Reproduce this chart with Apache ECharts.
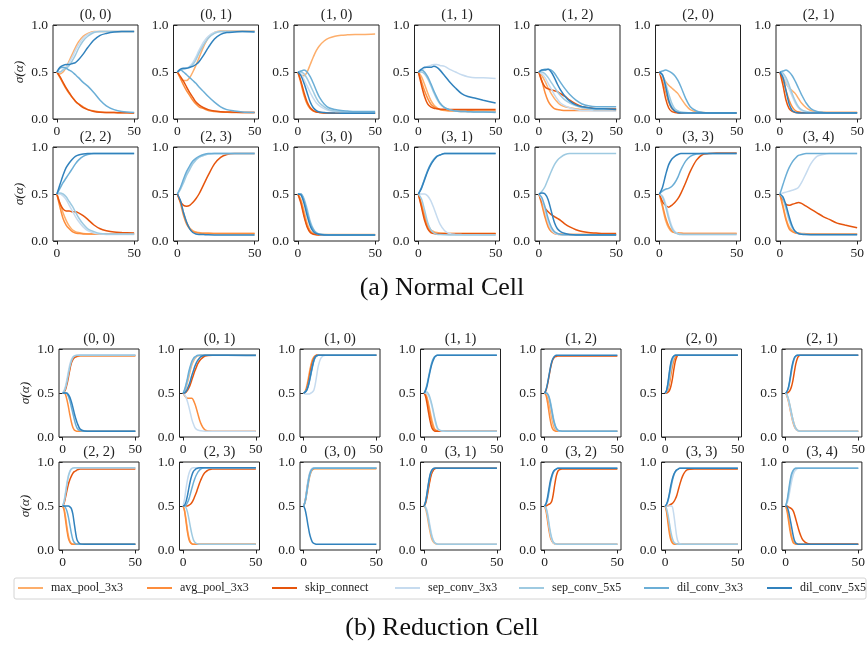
<!DOCTYPE html>
<html>
<head>
<meta charset="utf-8">
<script src="https://cdn.jsdelivr.net/npm/echarts@6/dist/echarts.min.js"></script>
<style>html,body{margin:0;padding:0;background:#fff;}#chart{width:868px;height:648px;}</style>
</head>
<body>
<div id="chart"></div>
<script>
const seriesNames = ['max_pool_3x3','avg_pool_3x3','skip_connect','sep_conv_3x3','sep_conv_5x5','dil_conv_3x3','dil_conv_5x5'];
const seriesColors = ['#fdae6b','#fd8d3c','#e6550d','#c6dbef','#9ecae1','#6baed6','#3182bd'];
const edgeLabels = ['(0, 0)','(0, 1)','(1, 0)','(1, 1)','(1, 2)','(2, 0)','(2, 1)','(2, 2)','(2, 3)','(3, 0)','(3, 1)','(3, 2)','(3, 3)','(3, 4)'];
const xTicks = [0, 50];
const yTicks = [0, 0.5, 1];
const epochsNormal = [0,2,4,6,8,10,12,14,17,20,24,28,32,37,42,50];
const epochsReduce = [0,1,2,3,4,5,6,7,8,9,10,12,15,20,30,50];

// ---------- Normal cell (order: max, avg, skip, sep3, sep5, dil3, dil5) ----------
const normal_0_0 = [
 [0.5,0.48,0.5,0.55,0.62,0.69,0.76,0.82,0.88,0.91,0.93,0.93,0.93,0.93,0.93,0.93],
 [0.5,0.44,0.38,0.32,0.27,0.23,0.19,0.16,0.13,0.1,0.085,0.075,0.07,0.068,0.066,0.065],
 [0.5,0.45,0.39,0.33,0.28,0.23,0.19,0.16,0.12,0.1,0.08,0.072,0.07,0.068,0.066,0.065],
 [0.5,0.5,0.53,0.55,0.6,0.66,0.73,0.79,0.86,0.9,0.925,0.93,0.93,0.93,0.93,0.93],
 [0.5,0.5,0.52,0.54,0.57,0.62,0.68,0.75,0.83,0.88,0.92,0.93,0.93,0.93,0.93,0.93],
 [0.5,0.54,0.55,0.54,0.52,0.5,0.47,0.44,0.39,0.35,0.28,0.2,0.14,0.1,0.08,0.07],
 [0.5,0.55,0.57,0.58,0.58,0.59,0.6,0.63,0.69,0.76,0.84,0.89,0.91,0.925,0.93,0.93]
];
const normal_0_1 = [
 [0.5,0.44,0.41,0.41,0.44,0.5,0.57,0.65,0.77,0.86,0.92,0.935,0.935,0.935,0.935,0.935],
 [0.5,0.43,0.36,0.3,0.25,0.2,0.16,0.13,0.11,0.09,0.08,0.075,0.072,0.07,0.07,0.07],
 [0.5,0.45,0.4,0.34,0.28,0.23,0.18,0.15,0.12,0.1,0.085,0.078,0.075,0.072,0.07,0.07],
 [0.5,0.52,0.53,0.54,0.56,0.6,0.66,0.73,0.82,0.88,0.92,0.93,0.93,0.93,0.93,0.93],
 [0.5,0.52,0.53,0.54,0.55,0.58,0.63,0.7,0.79,0.86,0.91,0.93,0.93,0.93,0.93,0.93],
 [0.5,0.52,0.5,0.47,0.44,0.41,0.38,0.34,0.29,0.24,0.18,0.13,0.1,0.085,0.075,0.07],
 [0.5,0.53,0.54,0.54,0.55,0.56,0.58,0.61,0.68,0.76,0.85,0.9,0.92,0.925,0.93,0.925]
];
const normal_1_0 = [
 [0.5,0.47,0.46,0.5,0.58,0.66,0.73,0.78,0.83,0.86,0.88,0.89,0.895,0.9,0.9,0.905],
 [0.5,0.38,0.25,0.16,0.11,0.085,0.075,0.07,0.065,0.063,0.062,0.06,0.06,0.06,0.06,0.06],
 [0.5,0.4,0.28,0.18,0.12,0.09,0.075,0.07,0.065,0.063,0.062,0.06,0.06,0.06,0.06,0.06],
 [0.5,0.48,0.42,0.35,0.28,0.22,0.17,0.14,0.11,0.09,0.08,0.075,0.07,0.07,0.07,0.07],
 [0.5,0.5,0.48,0.43,0.36,0.29,0.22,0.17,0.13,0.1,0.085,0.078,0.075,0.075,0.075,0.075],
 [0.5,0.51,0.52,0.5,0.45,0.38,0.3,0.23,0.16,0.12,0.1,0.09,0.085,0.08,0.08,0.08],
 [0.5,0.46,0.38,0.28,0.18,0.12,0.09,0.075,0.068,0.065,0.063,0.062,0.06,0.06,0.06,0.06]
];
const normal_1_1 = [
 [0.5,0.45,0.37,0.28,0.2,0.15,0.12,0.1,0.09,0.085,0.082,0.08,0.08,0.08,0.08,0.08],
 [0.5,0.4,0.3,0.22,0.16,0.13,0.11,0.1,0.095,0.09,0.09,0.088,0.087,0.086,0.085,0.085],
 [0.5,0.36,0.24,0.16,0.13,0.115,0.11,0.105,0.105,0.1,0.1,0.1,0.1,0.1,0.1,0.1],
 [0.5,0.52,0.54,0.56,0.57,0.58,0.58,0.57,0.56,0.53,0.5,0.47,0.45,0.44,0.44,0.43],
 [0.5,0.5,0.48,0.43,0.36,0.28,0.21,0.16,0.12,0.1,0.085,0.08,0.078,0.075,0.075,0.075],
 [0.5,0.52,0.5,0.45,0.38,0.3,0.23,0.17,0.12,0.1,0.085,0.08,0.078,0.075,0.075,0.07],
 [0.5,0.53,0.55,0.55,0.55,0.56,0.55,0.52,0.46,0.4,0.33,0.27,0.24,0.22,0.2,0.17]
];
const normal_1_2 = [
 [0.5,0.46,0.4,0.33,0.27,0.22,0.18,0.15,0.13,0.12,0.11,0.1,0.1,0.1,0.1,0.1],
 [0.5,0.4,0.28,0.19,0.14,0.11,0.1,0.095,0.09,0.09,0.09,0.09,0.09,0.09,0.09,0.09],
 [0.5,0.4,0.34,0.32,0.31,0.3,0.29,0.27,0.24,0.2,0.16,0.13,0.12,0.11,0.11,0.11],
 [0.5,0.48,0.44,0.38,0.32,0.26,0.21,0.17,0.14,0.12,0.1,0.09,0.09,0.085,0.085,0.085],
 [0.5,0.5,0.48,0.44,0.39,0.34,0.29,0.25,0.2,0.17,0.14,0.12,0.11,0.1,0.1,0.1],
 [0.5,0.52,0.53,0.53,0.52,0.49,0.44,0.39,0.32,0.26,0.2,0.16,0.14,0.13,0.13,0.13],
 [0.5,0.52,0.52,0.53,0.5,0.44,0.37,0.31,0.24,0.19,0.15,0.13,0.12,0.11,0.11,0.1]
];
const normal_2_0 = [
 [0.5,0.46,0.4,0.36,0.33,0.3,0.27,0.22,0.15,0.1,0.075,0.068,0.065,0.065,0.065,0.065],
 [0.5,0.42,0.3,0.18,0.11,0.08,0.07,0.065,0.065,0.065,0.065,0.065,0.065,0.065,0.065,0.065],
 [0.5,0.38,0.22,0.12,0.08,0.07,0.065,0.065,0.065,0.065,0.065,0.065,0.065,0.065,0.065,0.065],
 [0.5,0.45,0.34,0.22,0.14,0.1,0.08,0.07,0.065,0.065,0.065,0.065,0.065,0.065,0.065,0.065],
 [0.5,0.47,0.38,0.27,0.17,0.11,0.085,0.075,0.068,0.065,0.065,0.065,0.065,0.065,0.065,0.065],
 [0.5,0.51,0.52,0.51,0.49,0.46,0.41,0.34,0.22,0.13,0.085,0.07,0.065,0.065,0.065,0.065],
 [0.5,0.47,0.35,0.2,0.12,0.085,0.07,0.065,0.065,0.065,0.065,0.065,0.065,0.065,0.065,0.065]
];
const normal_2_1 = [
 [0.5,0.45,0.38,0.33,0.3,0.27,0.22,0.17,0.12,0.09,0.075,0.07,0.07,0.07,0.07,0.07],
 [0.5,0.42,0.3,0.2,0.13,0.09,0.075,0.07,0.07,0.07,0.07,0.07,0.07,0.07,0.07,0.07],
 [0.5,0.36,0.2,0.11,0.08,0.07,0.068,0.067,0.066,0.066,0.066,0.066,0.066,0.066,0.066,0.066],
 [0.5,0.47,0.4,0.32,0.24,0.17,0.12,0.09,0.075,0.07,0.068,0.066,0.066,0.066,0.066,0.066],
 [0.5,0.49,0.44,0.36,0.27,0.19,0.13,0.1,0.08,0.07,0.068,0.066,0.066,0.066,0.066,0.066],
 [0.5,0.51,0.52,0.5,0.46,0.4,0.33,0.26,0.17,0.11,0.08,0.07,0.066,0.066,0.066,0.066],
 [0.5,0.44,0.3,0.16,0.09,0.07,0.065,0.065,0.065,0.065,0.065,0.065,0.065,0.065,0.065,0.065]
];
const normal_2_2 = [
 [0.5,0.4,0.3,0.22,0.16,0.12,0.1,0.09,0.08,0.075,0.075,0.075,0.075,0.075,0.075,0.075],
 [0.5,0.36,0.24,0.17,0.13,0.1,0.085,0.08,0.075,0.075,0.075,0.075,0.075,0.075,0.075,0.075],
 [0.5,0.4,0.34,0.32,0.32,0.31,0.31,0.3,0.27,0.23,0.17,0.13,0.11,0.095,0.09,0.085],
 [0.5,0.5,0.48,0.44,0.38,0.32,0.26,0.21,0.15,0.11,0.085,0.075,0.07,0.07,0.07,0.07],
 [0.5,0.51,0.5,0.47,0.42,0.37,0.31,0.25,0.18,0.13,0.1,0.08,0.075,0.075,0.075,0.075],
 [0.5,0.56,0.62,0.67,0.72,0.77,0.82,0.86,0.9,0.92,0.93,0.93,0.93,0.93,0.93,0.93],
 [0.5,0.6,0.7,0.78,0.83,0.87,0.9,0.915,0.925,0.93,0.93,0.93,0.93,0.93,0.93,0.93]
];
const normal_2_3 = [
 [0.5,0.42,0.3,0.2,0.14,0.11,0.095,0.09,0.085,0.085,0.08,0.08,0.08,0.08,0.08,0.08],
 [0.5,0.4,0.27,0.18,0.13,0.1,0.09,0.085,0.08,0.08,0.08,0.08,0.08,0.08,0.08,0.08],
 [0.5,0.42,0.38,0.37,0.38,0.41,0.45,0.5,0.6,0.7,0.82,0.89,0.92,0.93,0.93,0.93],
 [0.5,0.56,0.64,0.72,0.78,0.83,0.87,0.89,0.915,0.925,0.93,0.93,0.93,0.93,0.93,0.93],
 [0.5,0.55,0.62,0.7,0.76,0.82,0.86,0.89,0.91,0.925,0.93,0.93,0.93,0.93,0.93,0.93],
 [0.5,0.57,0.66,0.74,0.8,0.85,0.88,0.9,0.92,0.93,0.93,0.93,0.93,0.93,0.93,0.93],
 [0.5,0.43,0.3,0.2,0.13,0.09,0.075,0.07,0.068,0.066,0.065,0.065,0.065,0.065,0.065,0.065]
];
const normal_3_0 = [
 [0.5,0.44,0.32,0.19,0.11,0.08,0.07,0.068,0.068,0.068,0.068,0.068,0.068,0.068,0.068,0.068],
 [0.5,0.42,0.28,0.16,0.1,0.075,0.068,0.066,0.066,0.066,0.066,0.066,0.066,0.066,0.066,0.066],
 [0.5,0.4,0.26,0.15,0.09,0.072,0.066,0.065,0.065,0.065,0.065,0.065,0.065,0.065,0.065,0.065],
 [0.5,0.49,0.42,0.3,0.18,0.11,0.08,0.07,0.066,0.065,0.065,0.065,0.065,0.065,0.065,0.065],
 [0.5,0.5,0.45,0.34,0.21,0.13,0.09,0.075,0.068,0.066,0.065,0.065,0.065,0.065,0.065,0.065],
 [0.5,0.5,0.43,0.31,0.19,0.12,0.085,0.072,0.066,0.065,0.065,0.065,0.065,0.065,0.065,0.065],
 [0.5,0.49,0.4,0.27,0.16,0.1,0.078,0.07,0.065,0.065,0.065,0.065,0.065,0.065,0.065,0.065]
];
const normal_3_1 = [
 [0.5,0.4,0.28,0.18,0.12,0.1,0.09,0.085,0.082,0.08,0.08,0.08,0.08,0.08,0.08,0.08],
 [0.5,0.38,0.25,0.15,0.1,0.085,0.08,0.08,0.08,0.08,0.08,0.08,0.08,0.08,0.08,0.08],
 [0.5,0.36,0.22,0.13,0.09,0.08,0.078,0.078,0.078,0.078,0.078,0.078,0.078,0.078,0.078,0.078],
 [0.5,0.5,0.5,0.48,0.43,0.35,0.26,0.18,0.11,0.08,0.07,0.068,0.067,0.066,0.065,0.065],
 [0.5,0.45,0.33,0.2,0.12,0.085,0.072,0.068,0.066,0.065,0.065,0.065,0.065,0.065,0.065,0.065],
 [0.5,0.57,0.66,0.75,0.82,0.87,0.9,0.915,0.93,0.93,0.93,0.93,0.93,0.93,0.93,0.93],
 [0.5,0.56,0.65,0.74,0.81,0.86,0.9,0.915,0.93,0.93,0.93,0.93,0.93,0.93,0.93,0.93]
];
const normal_3_2 = [
 [0.5,0.4,0.28,0.18,0.12,0.09,0.08,0.075,0.07,0.07,0.07,0.07,0.07,0.07,0.07,0.07],
 [0.5,0.38,0.25,0.15,0.1,0.08,0.072,0.07,0.07,0.07,0.07,0.07,0.07,0.07,0.07,0.07],
 [0.5,0.42,0.35,0.31,0.28,0.26,0.24,0.22,0.18,0.15,0.12,0.1,0.09,0.085,0.08,0.08],
 [0.5,0.44,0.32,0.2,0.12,0.085,0.072,0.068,0.066,0.066,0.066,0.066,0.066,0.066,0.066,0.066],
 [0.5,0.53,0.58,0.66,0.74,0.81,0.86,0.89,0.92,0.93,0.93,0.93,0.93,0.93,0.93,0.93],
 [0.5,0.46,0.36,0.24,0.15,0.1,0.08,0.07,0.066,0.066,0.066,0.066,0.066,0.066,0.066,0.066],
 [0.5,0.51,0.5,0.44,0.32,0.2,0.13,0.1,0.08,0.07,0.065,0.065,0.065,0.065,0.065,0.065]
];
const normal_3_3 = [
 [0.5,0.36,0.22,0.14,0.1,0.09,0.085,0.082,0.08,0.08,0.08,0.08,0.08,0.08,0.08,0.08],
 [0.5,0.38,0.25,0.16,0.11,0.09,0.085,0.082,0.08,0.08,0.08,0.08,0.08,0.08,0.08,0.08],
 [0.5,0.42,0.38,0.36,0.38,0.41,0.45,0.51,0.62,0.74,0.86,0.92,0.93,0.935,0.935,0.935],
 [0.5,0.48,0.4,0.27,0.16,0.1,0.08,0.072,0.07,0.07,0.07,0.07,0.07,0.07,0.07,0.07],
 [0.5,0.47,0.37,0.24,0.14,0.09,0.075,0.07,0.07,0.07,0.07,0.07,0.07,0.07,0.07,0.07],
 [0.5,0.53,0.55,0.56,0.58,0.62,0.68,0.76,0.85,0.9,0.925,0.93,0.93,0.93,0.93,0.93],
 [0.5,0.57,0.7,0.81,0.87,0.9,0.92,0.93,0.93,0.93,0.93,0.93,0.93,0.93,0.93,0.93]
];
const normal_3_4 = [
 [0.5,0.38,0.24,0.15,0.11,0.09,0.085,0.08,0.078,0.075,0.075,0.075,0.075,0.075,0.075,0.075],
 [0.5,0.36,0.22,0.13,0.1,0.085,0.08,0.078,0.075,0.075,0.075,0.075,0.075,0.075,0.075,0.075],
 [0.5,0.44,0.39,0.38,0.39,0.4,0.41,0.4,0.37,0.34,0.3,0.26,0.23,0.19,0.17,0.14],
 [0.5,0.51,0.52,0.53,0.54,0.55,0.57,0.62,0.72,0.82,0.9,0.92,0.93,0.93,0.93,0.93],
 [0.5,0.45,0.34,0.22,0.14,0.1,0.08,0.075,0.07,0.07,0.07,0.07,0.07,0.07,0.07,0.07],
 [0.5,0.6,0.7,0.78,0.84,0.88,0.91,0.92,0.93,0.93,0.93,0.93,0.93,0.93,0.93,0.93],
 [0.5,0.47,0.38,0.26,0.16,0.1,0.08,0.072,0.068,0.067,0.067,0.067,0.067,0.067,0.067,0.067]
];

// ---------- Reduction cell ----------
const reduce_0_0 = [
 [0.5,0.52,0.56,0.63,0.71,0.79,0.85,0.88,0.9,0.91,0.915,0.92,0.92,0.92,0.92,0.92],
 [0.5,0.5,0.48,0.42,0.34,0.25,0.17,0.11,0.08,0.07,0.065,0.065,0.065,0.065,0.065,0.065],
 [0.5,0.51,0.54,0.6,0.68,0.77,0.84,0.88,0.9,0.91,0.92,0.925,0.925,0.925,0.925,0.925],
 [0.5,0.53,0.58,0.66,0.75,0.83,0.88,0.91,0.92,0.93,0.93,0.935,0.935,0.935,0.935,0.935],
 [0.5,0.52,0.56,0.63,0.72,0.8,0.86,0.9,0.92,0.925,0.93,0.93,0.93,0.93,0.93,0.93],
 [0.5,0.5,0.5,0.49,0.46,0.41,0.34,0.27,0.2,0.14,0.1,0.072,0.065,0.065,0.065,0.065],
 [0.5,0.5,0.5,0.5,0.48,0.45,0.4,0.34,0.27,0.21,0.16,0.09,0.068,0.065,0.065,0.065]
];
const reduce_0_1 = [
 [0.5,0.52,0.56,0.62,0.69,0.76,0.82,0.86,0.89,0.91,0.92,0.93,0.93,0.93,0.93,0.93],
 [0.5,0.47,0.45,0.44,0.44,0.44,0.44,0.42,0.38,0.33,0.27,0.16,0.08,0.065,0.065,0.065],
 [0.5,0.5,0.51,0.53,0.56,0.6,0.65,0.7,0.75,0.79,0.83,0.88,0.92,0.93,0.93,0.93],
 [0.5,0.48,0.45,0.4,0.34,0.27,0.2,0.15,0.11,0.09,0.08,0.07,0.065,0.065,0.065,0.065],
 [0.5,0.53,0.58,0.65,0.72,0.79,0.84,0.88,0.9,0.915,0.925,0.93,0.93,0.93,0.93,0.93],
 [0.5,0.54,0.6,0.67,0.75,0.81,0.86,0.89,0.91,0.92,0.93,0.93,0.93,0.93,0.93,0.93],
 [0.5,0.5,0.52,0.55,0.59,0.64,0.7,0.75,0.8,0.84,0.87,0.91,0.93,0.93,0.93,0.925]
];
const reduce_1_0 = [
 [0.5,0.52,0.57,0.65,0.74,0.82,0.88,0.91,0.925,0.93,0.93,0.93,0.93,0.93,0.93,0.93],
 [0.5,0.51,0.55,0.62,0.71,0.8,0.86,0.9,0.92,0.93,0.93,0.93,0.93,0.93,0.93,0.93],
 [0.5,0.51,0.54,0.6,0.68,0.77,0.84,0.89,0.915,0.93,0.93,0.93,0.93,0.93,0.93,0.93],
 [0.5,0.49,0.49,0.49,0.49,0.5,0.51,0.53,0.6,0.7,0.8,0.9,0.93,0.93,0.93,0.93],
 [0.5,0.51,0.53,0.57,0.63,0.71,0.79,0.86,0.9,0.92,0.93,0.93,0.93,0.93,0.93,0.93],
 [0.5,0.51,0.53,0.58,0.65,0.73,0.81,0.87,0.91,0.92,0.93,0.93,0.93,0.93,0.93,0.93],
 [0.5,0.51,0.53,0.57,0.64,0.72,0.8,0.87,0.91,0.925,0.93,0.93,0.93,0.93,0.93,0.93]
];
const reduce_1_1 = [
 [0.5,0.49,0.45,0.38,0.3,0.22,0.15,0.1,0.08,0.07,0.065,0.065,0.065,0.065,0.065,0.065],
 [0.5,0.48,0.43,0.35,0.26,0.18,0.12,0.09,0.075,0.068,0.065,0.065,0.065,0.065,0.065,0.065],
 [0.5,0.46,0.38,0.28,0.19,0.12,0.085,0.07,0.065,0.065,0.065,0.065,0.065,0.065,0.065,0.065],
 [0.5,0.5,0.49,0.47,0.43,0.37,0.3,0.22,0.15,0.1,0.08,0.068,0.065,0.065,0.065,0.065],
 [0.5,0.51,0.51,0.49,0.45,0.39,0.32,0.24,0.17,0.11,0.085,0.07,0.065,0.065,0.065,0.065],
 [0.5,0.54,0.6,0.68,0.76,0.83,0.88,0.91,0.92,0.93,0.93,0.93,0.93,0.93,0.93,0.93],
 [0.5,0.53,0.58,0.66,0.74,0.81,0.86,0.9,0.92,0.93,0.93,0.93,0.93,0.93,0.93,0.93]
];
const reduce_1_2 = [
 [0.5,0.49,0.45,0.38,0.29,0.2,0.13,0.09,0.075,0.068,0.065,0.065,0.065,0.065,0.065,0.065],
 [0.5,0.47,0.39,0.28,0.18,0.11,0.08,0.07,0.065,0.065,0.065,0.065,0.065,0.065,0.065,0.065],
 [0.5,0.53,0.6,0.69,0.78,0.85,0.89,0.91,0.915,0.92,0.92,0.92,0.92,0.92,0.92,0.92],
 [0.5,0.5,0.48,0.44,0.37,0.28,0.19,0.13,0.09,0.075,0.068,0.065,0.065,0.065,0.065,0.065],
 [0.5,0.5,0.49,0.46,0.4,0.31,0.22,0.15,0.1,0.08,0.07,0.065,0.065,0.065,0.065,0.065],
 [0.5,0.5,0.49,0.45,0.38,0.29,0.2,0.14,0.1,0.08,0.07,0.065,0.065,0.065,0.065,0.065],
 [0.5,0.54,0.61,0.7,0.79,0.86,0.9,0.92,0.93,0.93,0.93,0.93,0.93,0.93,0.93,0.93]
];
const reduce_2_0 = [
 [0.5,0.51,0.55,0.63,0.74,0.83,0.89,0.92,0.93,0.93,0.93,0.93,0.93,0.93,0.93,0.93],
 [0.5,0.51,0.54,0.61,0.71,0.8,0.87,0.91,0.93,0.93,0.93,0.93,0.93,0.93,0.93,0.93],
 [0.5,0.5,0.51,0.53,0.58,0.66,0.77,0.86,0.91,0.93,0.93,0.93,0.93,0.93,0.93,0.93],
 [0.5,0.52,0.58,0.68,0.79,0.87,0.91,0.93,0.93,0.93,0.93,0.93,0.93,0.93,0.93,0.93],
 [0.5,0.52,0.57,0.67,0.78,0.86,0.91,0.93,0.93,0.93,0.93,0.93,0.93,0.93,0.93,0.93],
 [0.5,0.53,0.61,0.73,0.83,0.89,0.92,0.93,0.93,0.93,0.93,0.93,0.93,0.93,0.93,0.93],
 [0.5,0.53,0.62,0.75,0.85,0.9,0.92,0.93,0.93,0.93,0.93,0.93,0.93,0.93,0.93,0.93]
];
const reduce_2_1 = [
 [0.5,0.47,0.42,0.35,0.27,0.2,0.14,0.1,0.08,0.07,0.065,0.065,0.065,0.065,0.065,0.065],
 [0.5,0.46,0.4,0.32,0.24,0.17,0.12,0.09,0.075,0.068,0.065,0.065,0.065,0.065,0.065,0.065],
 [0.5,0.5,0.51,0.53,0.57,0.64,0.74,0.83,0.89,0.92,0.93,0.93,0.93,0.93,0.93,0.93],
 [0.5,0.47,0.41,0.33,0.25,0.18,0.13,0.09,0.075,0.068,0.065,0.065,0.065,0.065,0.065,0.065],
 [0.5,0.48,0.43,0.36,0.28,0.2,0.14,0.1,0.08,0.07,0.065,0.065,0.065,0.065,0.065,0.065],
 [0.5,0.52,0.56,0.64,0.74,0.83,0.89,0.92,0.93,0.93,0.93,0.93,0.93,0.93,0.93,0.93],
 [0.5,0.52,0.57,0.66,0.77,0.85,0.9,0.92,0.93,0.93,0.93,0.93,0.93,0.93,0.93,0.93]
];
const reduce_2_2 = [
 [0.5,0.47,0.38,0.26,0.16,0.1,0.075,0.068,0.065,0.065,0.065,0.065,0.065,0.065,0.065,0.065],
 [0.5,0.45,0.34,0.22,0.13,0.09,0.07,0.065,0.065,0.065,0.065,0.065,0.065,0.065,0.065,0.065],
 [0.5,0.53,0.6,0.68,0.75,0.8,0.84,0.87,0.89,0.9,0.91,0.92,0.92,0.92,0.92,0.92],
 [0.5,0.56,0.66,0.77,0.85,0.9,0.92,0.93,0.935,0.935,0.935,0.935,0.935,0.935,0.935,0.935],
 [0.5,0.55,0.64,0.75,0.84,0.89,0.92,0.93,0.935,0.935,0.935,0.935,0.935,0.935,0.935,0.935],
 [0.5,0.5,0.48,0.44,0.37,0.28,0.19,0.12,0.085,0.07,0.065,0.065,0.065,0.065,0.065,0.065],
 [0.5,0.5,0.5,0.5,0.5,0.49,0.47,0.41,0.3,0.19,0.11,0.07,0.065,0.065,0.065,0.065]
];
const reduce_2_3 = [
 [0.5,0.45,0.35,0.23,0.14,0.09,0.072,0.066,0.065,0.065,0.065,0.065,0.065,0.065,0.065,0.065],
 [0.5,0.44,0.32,0.2,0.12,0.085,0.07,0.065,0.065,0.065,0.065,0.065,0.065,0.065,0.065,0.065],
 [0.5,0.5,0.5,0.5,0.51,0.52,0.54,0.57,0.61,0.65,0.7,0.79,0.88,0.92,0.92,0.92],
 [0.5,0.58,0.7,0.8,0.87,0.91,0.93,0.935,0.935,0.935,0.935,0.935,0.935,0.935,0.935,0.935],
 [0.5,0.5,0.48,0.43,0.35,0.26,0.18,0.12,0.09,0.075,0.07,0.065,0.065,0.065,0.065,0.065],
 [0.5,0.5,0.51,0.54,0.58,0.64,0.7,0.76,0.81,0.85,0.88,0.92,0.935,0.935,0.935,0.935],
 [0.5,0.51,0.55,0.62,0.71,0.79,0.85,0.89,0.91,0.925,0.93,0.935,0.935,0.935,0.935,0.935]
];
const reduce_3_0 = [
 [0.5,0.54,0.63,0.73,0.82,0.88,0.91,0.92,0.92,0.92,0.92,0.92,0.92,0.92,0.92,0.92],
 [0.5,0.55,0.65,0.76,0.84,0.89,0.915,0.925,0.93,0.93,0.93,0.93,0.93,0.93,0.93,0.93],
 [0.5,0.55,0.66,0.77,0.85,0.9,0.92,0.93,0.93,0.93,0.93,0.93,0.93,0.93,0.93,0.93],
 [0.5,0.56,0.68,0.79,0.87,0.91,0.93,0.935,0.935,0.935,0.935,0.935,0.935,0.935,0.935,0.935],
 [0.5,0.54,0.63,0.74,0.83,0.89,0.92,0.93,0.935,0.935,0.935,0.935,0.935,0.935,0.935,0.935],
 [0.5,0.55,0.65,0.76,0.85,0.9,0.92,0.93,0.93,0.93,0.93,0.93,0.93,0.93,0.93,0.93],
 [0.5,0.46,0.38,0.28,0.19,0.13,0.09,0.075,0.068,0.065,0.065,0.065,0.065,0.065,0.065,0.065]
];
const reduce_3_1 = [
 [0.5,0.47,0.4,0.3,0.21,0.14,0.1,0.08,0.07,0.065,0.065,0.065,0.065,0.065,0.065,0.065],
 [0.5,0.54,0.62,0.72,0.81,0.87,0.9,0.92,0.93,0.93,0.93,0.93,0.93,0.93,0.93,0.93],
 [0.5,0.53,0.6,0.7,0.79,0.86,0.9,0.92,0.93,0.93,0.93,0.93,0.93,0.93,0.93,0.93],
 [0.5,0.49,0.45,0.37,0.28,0.19,0.13,0.09,0.075,0.068,0.065,0.065,0.065,0.065,0.065,0.065],
 [0.5,0.48,0.43,0.34,0.25,0.17,0.12,0.09,0.075,0.068,0.065,0.065,0.065,0.065,0.065,0.065],
 [0.5,0.55,0.64,0.75,0.84,0.89,0.92,0.93,0.93,0.93,0.93,0.93,0.93,0.93,0.93,0.93],
 [0.5,0.55,0.65,0.76,0.85,0.9,0.92,0.93,0.93,0.93,0.93,0.93,0.93,0.93,0.93,0.93]
];
const reduce_3_2 = [
 [0.5,0.46,0.37,0.26,0.17,0.11,0.08,0.07,0.066,0.065,0.065,0.065,0.065,0.065,0.065,0.065],
 [0.5,0.44,0.33,0.22,0.14,0.1,0.08,0.07,0.066,0.065,0.065,0.065,0.065,0.065,0.065,0.065],
 [0.5,0.5,0.51,0.52,0.53,0.56,0.64,0.75,0.84,0.89,0.91,0.92,0.92,0.92,0.92,0.92],
 [0.5,0.47,0.39,0.27,0.17,0.11,0.08,0.07,0.066,0.065,0.065,0.065,0.065,0.065,0.065,0.065],
 [0.5,0.48,0.41,0.3,0.2,0.13,0.09,0.075,0.068,0.065,0.065,0.065,0.065,0.065,0.065,0.065],
 [0.5,0.52,0.57,0.66,0.76,0.83,0.88,0.91,0.92,0.93,0.93,0.93,0.93,0.93,0.93,0.93],
 [0.5,0.53,0.6,0.7,0.79,0.85,0.89,0.91,0.92,0.93,0.93,0.93,0.93,0.93,0.93,0.93]
];
const reduce_3_3 = [
 [0.5,0.45,0.35,0.23,0.14,0.09,0.072,0.066,0.065,0.065,0.065,0.065,0.065,0.065,0.065,0.065],
 [0.5,0.43,0.3,0.18,0.11,0.08,0.068,0.065,0.065,0.065,0.065,0.065,0.065,0.065,0.065,0.065],
 [0.5,0.5,0.5,0.51,0.52,0.53,0.55,0.58,0.62,0.68,0.74,0.84,0.91,0.92,0.92,0.92],
 [0.5,0.5,0.5,0.5,0.5,0.49,0.4,0.27,0.15,0.09,0.072,0.066,0.065,0.065,0.065,0.065],
 [0.5,0.47,0.4,0.3,0.2,0.13,0.09,0.075,0.068,0.065,0.065,0.065,0.065,0.065,0.065,0.065],
 [0.5,0.52,0.56,0.63,0.71,0.79,0.85,0.89,0.91,0.92,0.93,0.93,0.93,0.93,0.93,0.93],
 [0.5,0.52,0.57,0.65,0.74,0.81,0.86,0.89,0.91,0.92,0.93,0.93,0.93,0.93,0.93,0.93]
];
const reduce_3_4 = [
 [0.5,0.46,0.37,0.26,0.17,0.11,0.08,0.07,0.066,0.065,0.065,0.065,0.065,0.065,0.065,0.065],
 [0.5,0.44,0.33,0.22,0.14,0.09,0.072,0.066,0.065,0.065,0.065,0.065,0.065,0.065,0.065,0.065],
 [0.5,0.5,0.49,0.48,0.47,0.45,0.41,0.35,0.29,0.23,0.18,0.11,0.075,0.065,0.065,0.065],
 [0.5,0.53,0.59,0.68,0.77,0.84,0.89,0.91,0.925,0.93,0.93,0.93,0.93,0.93,0.93,0.93],
 [0.5,0.55,0.64,0.75,0.84,0.89,0.92,0.93,0.93,0.93,0.93,0.93,0.93,0.93,0.93,0.93],
 [0.5,0.56,0.67,0.78,0.86,0.9,0.92,0.93,0.93,0.93,0.93,0.93,0.93,0.93,0.93,0.93],
 [0.5,0.49,0.44,0.36,0.27,0.18,0.11,0.08,0.07,0.065,0.065,0.065,0.065,0.065,0.065,0.065]
];

const normalPanels = [normal_0_0,normal_0_1,normal_1_0,normal_1_1,normal_1_2,normal_2_0,normal_2_1,normal_2_2,normal_2_3,normal_3_0,normal_3_1,normal_3_2,normal_3_3,normal_3_4];
const reducePanels = [reduce_0_0,reduce_0_1,reduce_1_0,reduce_1_1,reduce_1_2,reduce_2_0,reduce_2_1,reduce_2_2,reduce_2_3,reduce_3_0,reduce_3_1,reduce_3_2,reduce_3_3,reduce_3_4];

const captions = ['(a) Normal Cell', '(b) Reduction Cell'];
const legendLeft = [18, 147, 272, 395, 519, 644, 767];

// ---------- build option ----------
const FONT = '"Liberation Serif", "DejaVu Serif", serif';
const TXT = '#222';
const blocks = [
  {panels: normalPanels, epochs: epochsNormal, left0: 53, step: 120.5, w: 85, tops: [25, 147], h: 94},
  {panels: reducePanels, epochs: epochsReduce, left0: 59, step: 120.5, w: 80, tops: [349, 462], h: 88}
];
const grids = [], xAxes = [], yAxes = [], series = [], graphics = [];
blocks.forEach(b => {
  b.panels.forEach((panel, i) => {
    const row = Math.floor(i / 7), col = i % 7;
    const left = b.left0 + b.step * col, top = b.tops[row];
    const g = grids.length;
    grids.push({left: left, top: top, width: b.w, height: b.h, show: true, borderColor: '#222', borderWidth: 1, backgroundColor: 'transparent'});
    xAxes.push({
      type: 'value', gridIndex: g, min: -2.5, max: 52.5,
      axisLine: {show: false}, splitLine: {show: false},
      axisTick: {show: true, customValues: xTicks, length: 3.5, lineStyle: {color: '#222'}},
      axisLabel: {show: true, customValues: xTicks, margin: 5, fontFamily: FONT, fontSize: 13.5, color: TXT}
    });
    yAxes.push({
      type: 'value', gridIndex: g, min: 0, max: 1,
      axisLine: {show: false}, splitLine: {show: false},
      axisTick: {show: true, customValues: yTicks, length: 3.5, lineStyle: {color: '#222'}},
      axisLabel: {show: true, customValues: yTicks, margin: 5, fontFamily: FONT, fontSize: 13.5, color: TXT, formatter: v => v.toFixed(1)},
      name: col === 0 ? 'σ(α)' : '', nameLocation: 'middle', nameGap: 27, nameRotate: 90,
      nameTextStyle: {fontFamily: FONT, fontSize: 13.5, color: TXT, fontStyle: 'italic'}
    });
    graphics.push({type: 'text', x: left + b.w / 2, y: top - 10, style: {text: edgeLabels[i], textAlign: 'center', textVerticalAlign: 'middle', font: '14.5px ' + FONT, fill: TXT}});
    panel.forEach((vals, k) => {
      series.push({
        type: 'line', name: seriesNames[k], xAxisIndex: g, yAxisIndex: g,
        data: b.epochs.map((e, j) => [e, vals[j]]),
        showSymbol: false, smooth: 0.3, silent: true,
        lineStyle: {width: 1.5, color: seriesColors[k]},
        itemStyle: {color: seriesColors[k]}
      });
    });
  });
});
graphics.push({type: 'rect', shape: {x: 14, y: 578, width: 852, height: 21, r: 2}, style: {fill: '#fff', stroke: '#d4d4d4', lineWidth: 1}, z: -1});
graphics.push({type: 'text', x: 442, y: 288, style: {text: captions[0], textAlign: 'center', textVerticalAlign: 'middle', font: '26px ' + FONT, fill: '#111'}});
graphics.push({type: 'text', x: 442, y: 628, style: {text: captions[1], textAlign: 'center', textVerticalAlign: 'middle', font: '26px ' + FONT, fill: '#111'}});

const legends = seriesNames.map((n, k) => ({
  data: [n], left: legendLeft[k], top: 582, padding: 0, itemGap: 0,
  itemWidth: 25, itemHeight: 2, icon: 'rect', selectedMode: false,
  textStyle: {fontFamily: FONT, fontSize: 12, color: TXT, padding: [0, 0, 0, 3]}
}));

const chart = echarts.init(document.getElementById('chart'), null, {renderer: 'canvas'});
chart.setOption({
  animation: false, backgroundColor: '#fff',
  grid: grids, xAxis: xAxes, yAxis: yAxes, series: series,
  legend: legends, graphic: {elements: graphics}
});
</script>
</body>
</html>
